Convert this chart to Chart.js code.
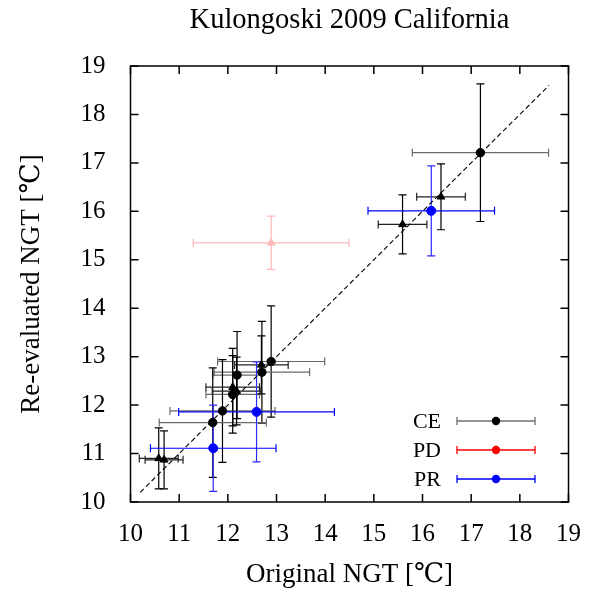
<!DOCTYPE html>
<html>
<head>
<meta charset="utf-8">
<script src="https://cdn.jsdelivr.net/npm/chart.js@4"></script>
<style>
  html, body { margin: 0; padding: 0; background: #fff; }
  #wrap { width: 590px; height: 595px; }
</style>
</head>
<body>
<div id="wrap"><canvas id="chart" width="590" height="595"></canvas></div>
<script>
// Axis ticks
const xTicks = [10, 11, 12, 13, 14, 15, 16, 17, 18, 19];
const yTicks = [10, 11, 12, 13, 14, 15, 16, 17, 18, 19];

// CE, round markers
const ceCircleX = [17.19, 12.89, 12.70, 12.19, 12.10, 11.89, 11.69];
const ceCircleY = [17.21, 12.90, 12.68, 12.62, 12.22, 11.88, 11.64];
const ceCircleXErr = [1.4, 1.1, 0.98, 0.5, 0.55, 1.08, 1.1];
const ceCircleYErr = [1.42, 1.15, 1.05, 0.9, 0.8, 1.06, 1.13];

// CE, triangle markers
const ceTriX = [16.38, 15.59, 12.69, 12.10, 12.18, 10.58, 10.69];
const ceTriY = [16.30, 15.73, 12.83, 12.37, 12.29, 10.90, 10.87];
const ceTriXErr = [0.5, 0.5, 0.55, 0.55, 0.5, 0.4, 0.39];
const ceTriYErr = [0.68, 0.61, 0.6, 0.8, 0.7, 0.63, 0.6];

// PD (faded)
const pdX = [12.89];
const pdY = [15.35];
const pdXErr = [1.6];
const pdYErr = [0.55];

// PR
const prX = [16.18, 12.59, 11.70];
const prY = [16.01, 11.86, 11.11];
const prXErr = [1.3, 1.6, 1.29];
const prYErr = [0.93, 1.03, 0.89];

// 1:1 line ends
const diagX = [10.2, 18.6];

const titleText = "Kulongoski 2009 California";
const legendNames = ["CE", "PD", "PR"];
const legendColors = ["#000000", "#ff0000", "#0000ff"];
const legendBarColors = ["#707070", "#ff0000", "#0000ff"];

const FONT = "'Liberation Serif', 'DejaVu Serif', serif";

function points(xs, ys, ex, ey) {
  return xs.map((x, i) => ({ x: x, y: ys[i], xErr: ex[i], yErr: ey[i] }));
}

const errorBars = {
  id: "errorBars",
  beforeDatasetsDraw(chart) {
    const ctx = chart.ctx;
    const xs = chart.scales.x;
    const ys = chart.scales.y;
    const cap = 4;
    ctx.save();
    ctx.lineWidth = 1.2;
    chart.data.datasets.forEach((ds) => {
      if (!ds.errColorX) return;
      ds.data.forEach((p) => {
        const px = xs.getPixelForValue(p.x);
        const py = ys.getPixelForValue(p.y);
        const x0 = xs.getPixelForValue(p.x - p.xErr);
        const x1 = xs.getPixelForValue(p.x + p.xErr);
        const y0 = ys.getPixelForValue(p.y - p.yErr);
        const y1 = ys.getPixelForValue(p.y + p.yErr);
        ctx.strokeStyle = ds.errColorX;
        ctx.beginPath();
        ctx.moveTo(x0, py); ctx.lineTo(x1, py);
        ctx.moveTo(x0, py - cap); ctx.lineTo(x0, py + cap);
        ctx.moveTo(x1, py - cap); ctx.lineTo(x1, py + cap);
        ctx.stroke();
        ctx.strokeStyle = ds.errColorY;
        ctx.beginPath();
        ctx.moveTo(px, y0); ctx.lineTo(px, y1);
        ctx.moveTo(px - cap, y0); ctx.lineTo(px + cap, y0);
        ctx.moveTo(px - cap, y1); ctx.lineTo(px + cap, y1);
        ctx.stroke();
      });
    });
    ctx.restore();
  }
};

const frame = {
  id: "frame",
  afterDraw(chart) {
    const ctx = chart.ctx;
    const a = chart.chartArea;
    const xs = chart.scales.x;
    const ys = chart.scales.y;
    const len = 8;
    ctx.save();
    ctx.strokeStyle = "#000";
    ctx.lineWidth = 1.5;
    ctx.strokeRect(a.left, a.top, a.right - a.left, a.bottom - a.top);
    ctx.beginPath();
    xTicks.forEach((t) => {
      const px = xs.getPixelForValue(t);
      ctx.moveTo(px, a.bottom); ctx.lineTo(px, a.bottom - len);
      ctx.moveTo(px, a.top); ctx.lineTo(px, a.top + len);
    });
    yTicks.forEach((t) => {
      const py = ys.getPixelForValue(t);
      ctx.moveTo(a.left, py); ctx.lineTo(a.left + len, py);
      ctx.moveTo(a.right, py); ctx.lineTo(a.right - len, py);
    });
    ctx.stroke();

    // title, centred over the plot box
    ctx.fillStyle = "#000";
    ctx.font = "28.5px " + FONT;
    ctx.textAlign = "center";
    ctx.textBaseline = "middle";
    ctx.fillText(titleText, (a.left + a.right) / 2, 21);

    // legend with error-bar samples
    const textRight = 441;
    const lineL = 457, lineR = 535, dotX = 496;
    const rowY = [421, 450, 479];
    ctx.font = "22px " + FONT;
    ctx.textAlign = "right";
    legendNames.forEach((name, i) => {
      const yy = rowY[i];
      ctx.fillStyle = "#000";
      ctx.fillText(name, textRight, yy + 1);
      ctx.strokeStyle = legendBarColors[i];
      ctx.lineWidth = 1.3;
      ctx.beginPath();
      ctx.moveTo(lineL, yy); ctx.lineTo(lineR, yy);
      ctx.moveTo(lineL, yy - 4); ctx.lineTo(lineL, yy + 4);
      ctx.moveTo(lineR, yy - 4); ctx.lineTo(lineR, yy + 4);
      ctx.stroke();
      ctx.fillStyle = legendColors[i];
      ctx.beginPath();
      ctx.arc(dotX, yy, 4.2, 0, Math.PI * 2);
      ctx.fill();
    });
    ctx.restore();
  }
};

const ctx = document.getElementById("chart").getContext("2d");
new Chart(ctx, {
  type: "scatter",
  data: {
    datasets: [
      {
        label: "1:1",
        type: "line",
        data: diagX.map((v) => ({ x: v, y: v })),
        borderColor: "#000",
        borderWidth: 1.1,
        borderDash: [5, 3],
        pointRadius: 0,
        fill: false
      },
      {
        label: "PD",
        data: points(pdX, pdY, pdXErr, pdYErr),
        pointStyle: "triangle",
        pointRadius: 4.5,
        backgroundColor: "#ffb8b8",
        borderColor: "#ffb8b8",
        errColorX: "#ffb8b8",
        errColorY: "#ffb8b8"
      },
      {
        label: "CE",
        data: points(ceCircleX, ceCircleY, ceCircleXErr, ceCircleYErr),
        pointStyle: "circle",
        pointRadius: 4.2,
        backgroundColor: "#000",
        borderColor: "#000",
        errColorX: "#6a6a6a",
        errColorY: "#000"
      },
      {
        label: "CE tri",
        data: points(ceTriX, ceTriY, ceTriXErr, ceTriYErr),
        pointStyle: "triangle",
        pointRadius: 4.5,
        backgroundColor: "#000",
        borderColor: "#000",
        errColorX: "#222",
        errColorY: "#000"
      },
      {
        label: "PR",
        data: points(prX, prY, prXErr, prYErr),
        pointStyle: "circle",
        pointRadius: 4.5,
        backgroundColor: "#0000ff",
        borderColor: "#0000ff",
        errColorX: "#0000ff",
        errColorY: "#2a2aff"
      }
    ]
  },
  options: {
    responsive: false,
    animation: false,
    layout: { padding: { top: 66, right: 19, bottom: 0, left: 0 } },
    scales: {
      x: {
        type: "linear",
        min: 10,
        max: 19,
        afterBuildTicks: (s) => { s.ticks = xTicks.map((v) => ({ value: v })); },
        afterFit: (s) => { s.height = 93; },
        grid: { display: false },
        border: { display: false },
        ticks: { color: "#000", font: { family: FONT, size: 25 }, padding: 9 },
        title: {
          display: true,
          text: "Original NGT [℃]",
          color: "#000",
          font: { family: FONT, size: 27 },
          padding: { top: 0, bottom: 4 }
        }
      },
      y: {
        type: "linear",
        min: 10,
        max: 19,
        afterBuildTicks: (s) => { s.ticks = yTicks.map((v) => ({ value: v })); },
        afterFit: (s) => { s.width = 130.5; },
        grid: { display: false },
        border: { display: false },
        ticks: { color: "#000", font: { family: FONT, size: 25 }, padding: 17 },
        title: {
          display: true,
          text: "Re-evaluated NGT [℃]",
          color: "#000",
          font: { family: FONT, size: 27 },
          padding: { top: 16, bottom: 0 }
        }
      }
    },
    plugins: {
      legend: { display: false },
      tooltip: { enabled: false },
      title: { display: false }
    }
  },
  plugins: [errorBars, frame]
});
</script>
</body>
</html>
